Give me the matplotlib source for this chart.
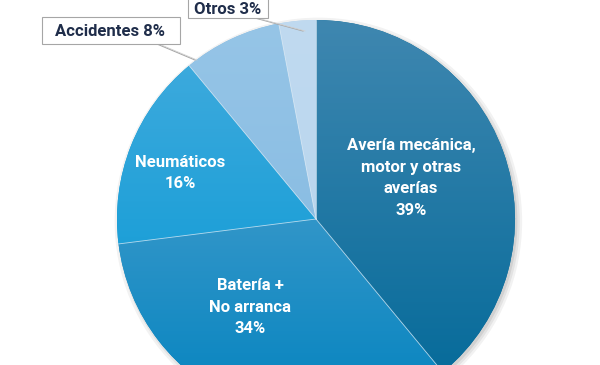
import matplotlib
matplotlib.use("Agg")
import matplotlib.pyplot as plt
from matplotlib.colors import to_rgb
from matplotlib.patches import Rectangle
import numpy as np

categories = ["Avería mecánica,\nmotor y otras\naverías", "Batería +\nNo arranca", "Neumáticos", "Accidentes", "Otros"]
values = [39, 34, 16, 8, 3]
# gradient colours (top of pie -> bottom of pie)
top_colors = ["#3f87b0", "#5fa8d2", "#44acde", "#96c5e7", "#c0daf0"]
bottom_colors = ["#006898", "#0383bf", "#0096d3", "#7fb6df", "#b4d2ec"]

plt.rcParams['font.family'] = ['Roboto', 'DejaVu Sans']

fig = plt.figure(figsize=(6, 3.65), dpi=100)
ax = fig.add_axes([0, 0, 1, 1])
R = 199.0
cx, cy = 316.0, 146.0

# soft shadow
for k, a in enumerate([0.05, 0.06, 0.08]):
    ax.add_patch(plt.Circle((0.012, -0.012), 1.0 + 0.012 * (2 - k), color="#000000",
                            alpha=a, zorder=0, lw=0))

wedges, _ = ax.pie(values, colors=bottom_colors, startangle=90, counterclock=False,
                   radius=1.0, center=(0, 0),
                   wedgeprops=dict(edgecolor="none", linewidth=0))

t = np.linspace(0, 1, 256)[:, None]
for w, c0, c1 in zip(wedges, top_colors, bottom_colors):
    w.set_zorder(1)
    a0 = np.array(to_rgb(c0)); a1 = np.array(to_rgb(c1))
    img = (a0[None, None, :] * (1 - t[..., None]) + a1[None, None, :] * t[..., None])
    img = np.repeat(img, 2, axis=1)
    im = ax.imshow(img, extent=(-1, 1, -1, 1), origin="upper", zorder=2,
                   interpolation="bilinear", aspect="auto")
    im.set_clip_path(w)

# thin light separators
for w in wedges:
    th1, th2 = np.deg2rad(w.theta1), np.deg2rad(w.theta2)
    ax.plot([0, np.cos(th1)], [0, np.sin(th1)], color="#dcebf6", lw=0.6, alpha=0.8, zorder=3)

ax.set_xlim(-cx / R, (600 - cx) / R)
ax.set_ylim(-cy / R, (365 - cy) / R)
ax.set_aspect('equal')
ax.axis('off')

def px(x, y):
    return ((x - cx) / R, ((365 - y) - cy) / R)

fs = 12
inside = [(0, 411, 178), (1, 250, 307), (2, 180, 173)]
for i, x, y in inside:
    ax.text(*px(x, y), f"{categories[i]}\n{values[i]}%", ha="center", va="center",
            color="white", fontsize=fs, fontweight="bold", linespacing=1.55, zorder=5)

# outside labels: (index, text x, text y, box x0, y0, x1, y1, leader x1, y1, x2, y2)
outside = [(3, 110, 32, 42, 17, 180, 44, 157, 44, 195, 60),
           (4, 228, 9, 188, -5, 268, 18, 255, 18, 303, 31)]
for i, x, y, bx0, by0, bx1, by1, x1, y1, x2, y2 in outside:
    ax.plot(*zip(px(x1, y1), px(x2, y2)), color="#a6a6a6", lw=0.8, zorder=4)
    ax.plot(*zip(px(x1 + 2, y1), px(x2 + 2, y2)), color="#d0d0d0", lw=0.6, zorder=4)
    (X0, Y0), (X1, Y1) = px(bx0, by1), px(bx1, by0)
    ax.add_patch(Rectangle((X0, Y0), X1 - X0, Y1 - Y0, facecolor="white",
                           edgecolor="#a6a6a6", lw=0.8, zorder=6))
    ax.text(*px(x, y), f"{categories[i]} {values[i]}%", ha="center", va="center",
            color="#1f2d4a", fontsize=fs, fontweight="bold", zorder=7)

fig.savefig("out.png", dpi=100)
